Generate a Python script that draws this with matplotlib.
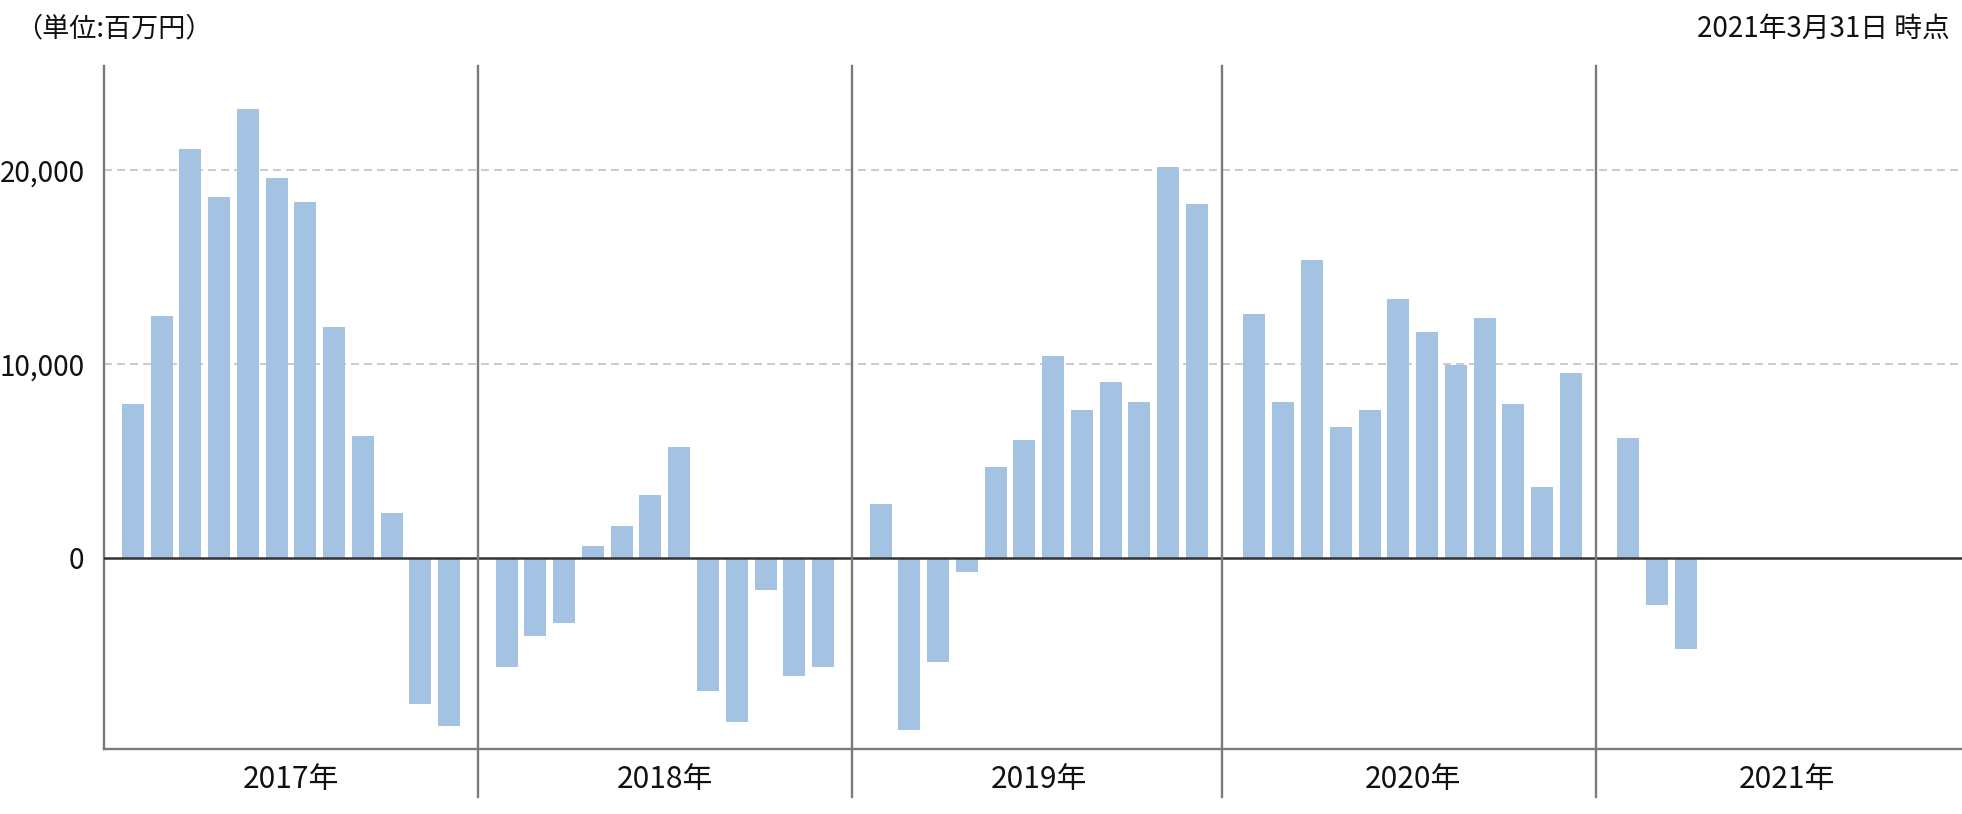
import matplotlib
matplotlib.use("Agg")
import matplotlib.pyplot as plt
import matplotlib.ticker as mticker
import numpy as np

plt.rcParams['font.family'] = ['Noto Sans CJK JP', 'DejaVu Sans']

years = ["2017年", "2018年", "2019年", "2020年", "2021年"]
v2017 = [7920, 12460, 21070, 18590, 23130, 19570, 18330, 11890, 6270, 2300, -7530, -8680]
v2018 = [-5620, -4020, -3350, 600, 1630, 3230, 5710, -6850, -8450, -1650, -6080, -5620]
v2019 = [2780, -8900, -5400, -730, 4690, 6070, 10410, 7630, 9070, 8030, 20160, 18240]
v2020 = [12540, 8010, 15370, 6720, 7600, 13310, 11610, 9910, 12330, 7910, 3640, 9500]
v2021 = [6170, -2420, -4690]
yticks = [0, 10000, 20000]
unit_label = "（単位:百万円）"
date_label = "2021年3月31日 時点"

series = [v2017, v2018, v2019, v2020, v2021]

W, H = 1962, 814
fig = plt.figure(figsize=(W / 100, H / 100), dpi=100)
ax = fig.add_axes([104 / W, (H - 749) / H, (W - 104) / W, (749 - 65.7) / H])

bar_color = "#a4c3e2"
slot = 13
for i, vals in enumerate(series):
    xs = [i * slot + m + 1 for m in range(len(vals))]
    ax.bar(xs, vals, width=0.765, color=bar_color, zorder=2)

ax.set_xlim(0, 64.6)
ax.set_ylim(-9861, 25361)

# gridlines
for t in yticks[1:]:
    ax.axhline(t, color="#cccccc", lw=1.44, dashes=(4, 2.5), zorder=1)
ax.axhline(0, color="#333333", lw=1.8, zorder=3)

ax.set_yticks(yticks)
ax.yaxis.set_major_formatter(mticker.FuncFormatter(lambda v, p: f"{int(v):,}"))
ax.tick_params(axis='y', length=0, pad=14, labelsize=20, labelcolor="#111111")
ax.set_xticks([])

for s in ["top", "right"]:
    ax.spines[s].set_visible(False)
for s in ["left", "bottom"]:
    ax.spines[s].set_color("#7a7a7a")
    ax.spines[s].set_linewidth(1.7)

trans = matplotlib.transforms.blended_transform_factory(ax.transData, ax.transAxes)
ext = (749 - 797) / (749 - 65.7)
sep_offsets = [0, 0, -0.14, -0.13]
for i in range(1, len(years)):
    xs = i * slot + sep_offsets[i - 1]
    ax.plot([xs, xs], [ext, 1], color="#7a7a7a", lw=1.7,
            transform=trans, clip_on=False, zorder=4)

lab_y = (749 - 779) / (749 - 65.7)
for i, y in enumerate(years):
    ax.text(i * slot + 6.5, lab_y, y, transform=trans, ha="center", va="center",
            fontsize=21.5, color="#111111", clip_on=False)

fig.text(15 / W, 1 - 29 / H, unit_label, ha="left", va="center", fontsize=19.5, color="#111111")
fig.text(1950 / W, 1 - 29 / H, date_label, ha="right", va="center", fontsize=20, color="#111111")

fig.savefig("out.png", dpi=100)
